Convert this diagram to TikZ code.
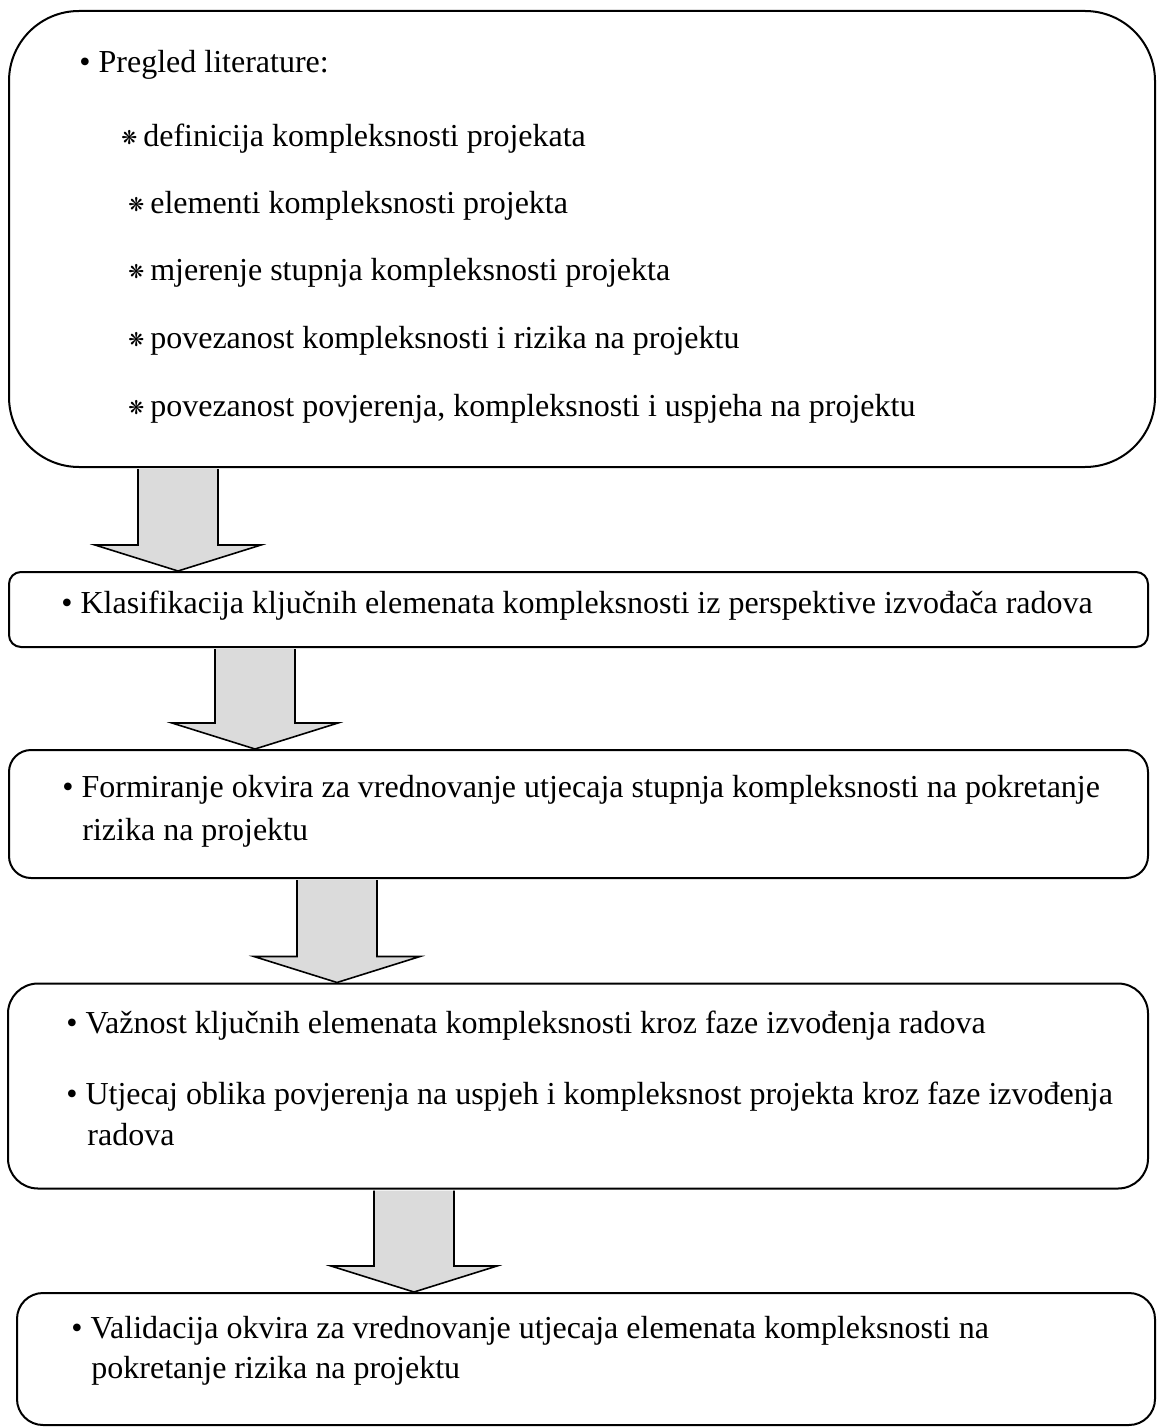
\documentclass[tikz,border=0pt]{standalone}
\usepackage{fontspec}
\setmainfont{Liberation Serif}
\newfontfamily\symfont{DejaVu Sans}
\usetikzlibrary{
  calc, % for the offsets of the block arrows
  positioning, % for relative positioning
}
\newcommand{\astmark}{\raisebox{1pt}{\symfont\fontsize{9.5}{9.5}\selectfont ❋}\hspace{3pt}}
\tikzset{
  stage/.style={ % style for each stage box
    rectangle,draw, % drawn as a rectangle
    line width=1pt, % a little heavier than the default
    inner sep=0pt, % no padding, the size is given
  },
  item/.style={ % style for each line of text
    anchor=base west, % placed by the start of its baseline
    inner sep=0pt,
    font=\fontsize{16}{19}\selectfont,
  },
  flow/.style={ % style for the block arrows
    draw,line width=0.8pt,
    fill=gray!28,
    line join=miter,
  },
}
\newcommand{\blockarrow}[2]{% #1 top of the shaft, #2 tip
  \path[flow] ($(#1)+(-40,1)$) -- ($(#2)+(-40,-26)$) -- ($(#2)+(-83,-26)$) -- (#2)
    -- ($(#2)+(83,-26)$) -- ($(#2)+(40,-26)$) -- ($(#1)+(40,1)$);
}

\begin{document}
\begin{tikzpicture}[x=0.5pt,y=-0.5pt]
	\useasboundingbox (0,0) rectangle (1157,1428);
	
	% stage boxes
	\node[stage, minimum width=573pt, minimum height=228pt, rounded corners=35pt] (lit) at (582,239) {};
	\node[stage, minimum width=569.5pt, minimum height=37.5pt, rounded corners=6pt] (klas) at (578.5,609.5) {};
	\node[stage, minimum width=569.5pt, minimum height=64pt, rounded corners=11pt] (okvir) at (578.5,814) {};
	\node[stage, minimum width=570pt, minimum height=102.5pt, rounded corners=15pt] (faze) at (578,1086) {};
	\node[stage, minimum width=569pt, minimum height=66pt, rounded corners=13pt] (valid) at (586,1359) {};
	
	% text lines
	\node[item] (pregled) at (79,73) {• Pregled literature:};
	\node[item] (def) at (121,147) {\astmark definicija kompleksnosti projekata};
	\node[item] (elem) at (128,214) {\astmark elementi kompleksnosti projekta};
	\node[item] (mjer) at (128,281) {\astmark mjerenje stupnja kompleksnosti projekta};
	\node[item] (rizik) at (128,349) {\astmark povezanost kompleksnosti i rizika na projektu};
	\node[item] (povj) at (128,416) {\astmark povezanost povjerenja, kompleksnosti i uspjeha na projektu};
	
	\node[item] (klastxt) at (61,613) {• Klasifikacija ključnih elemenata kompleksnosti iz perspektive izvođača radova};
	
	\node[item] (okvtxt) at (62,797) {• Formiranje okvira za vrednovanje utjecaja stupnja kompleksnosti na pokretanje};
	\node[item] (okvtxt2) at (82,840) {rizika na projektu};
	
	\node[item] (vazn) at (66,1033) {• Važnost ključnih elemenata kompleksnosti kroz faze izvođenja radova};
	\node[item] (utj) at (66,1104) {• Utjecaj oblika povjerenja na uspjeh i kompleksnost projekta kroz faze izvođenja};
	\node[item] (utj2) at (87,1145) {radova};
	
	\node[item] (valtxt) at (71,1338) {• Validacija okvira za vrednovanje utjecaja elemenata kompleksnosti na};
	\node[item] (valtxt2) at (91,1378) {pokretanje rizika na projektu};
	
	% block arrows
	\coordinate (c1) at (178,0);
	\coordinate (c2) at (255,0);
	\coordinate (c3) at (337,0);
	\coordinate (c4) at (414,0);
	\blockarrow{lit.south -| c1}{klas.north -| c1}
	\blockarrow{klas.south -| c2}{okvir.north -| c2}
	\blockarrow{okvir.south -| c3}{faze.north -| c3}
	\blockarrow{faze.south -| c4}{valid.north -| c4}
\end{tikzpicture}
\end{document}
